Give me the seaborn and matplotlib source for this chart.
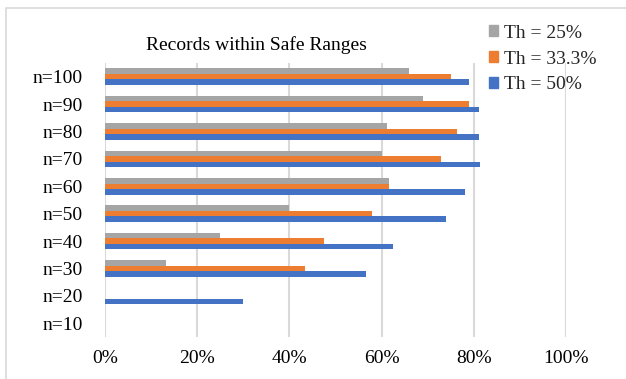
import matplotlib
matplotlib.use("Agg")
import matplotlib.pyplot as plt
import matplotlib.patches as mpatches
from matplotlib.ticker import FuncFormatter
import seaborn as sns
import pandas as pd

# Share of records inside the safe ranges, per sample size n and threshold
categories = ["n=100", "n=90", "n=80", "n=70", "n=60", "n=50", "n=40", "n=30", "n=20", "n=10"]
th_25 = [0.660, 0.689, 0.612, 0.601, 0.616, 0.400, 0.249, 0.132, 0.0, 0.0]
th_33 = [0.750, 0.789, 0.763, 0.728, 0.616, 0.580, 0.475, 0.433, 0.0, 0.0]
th_50 = [0.789, 0.811, 0.812, 0.813, 0.782, 0.740, 0.625, 0.567, 0.299, 0.0]
series_names = ["Th = 25%", "Th = 33.3%", "Th = 50%"]
colors = ["#A5A5A5", "#ED7D31", "#4472C4"]

rows = []
for name, vals in zip(series_names, [th_25, th_33, th_50]):
    for cat, v in zip(categories, vals):
        rows.append({"n": cat, "series": name, "value": v})
df = pd.DataFrame(rows)

sns.set_theme(style="white")
plt.rcParams["font.family"] = ["Liberation Serif", "DejaVu Serif"]

fig = plt.figure(figsize=(6.26, 3.79), dpi=100)
ax = fig.add_axes([0.1677, 0.1108, 0.7364, 0.723])

sns.barplot(data=df, x="value", y="n", hue="series", order=categories,
            hue_order=series_names, palette=colors, orient="h", width=0.6,
            saturation=1, ax=ax, legend=False, edgecolor="none")

ax.set_xlim(0, 1.0)
ax.set_ylim(len(categories) - 0.5, -0.5)
ax.set_xticks([0, 0.2, 0.4, 0.6, 0.8, 1.0])
ax.xaxis.set_major_formatter(FuncFormatter(lambda v, p: f"{v*100:.0f}%"))
ax.grid(axis="x", color="#D9D9D9", linewidth=1.5)
ax.set_axisbelow(True)
for s in ax.spines.values():
    s.set_visible(False)
ax.set_xlabel("")
ax.set_ylabel("")
ax.tick_params(axis="x", labelsize=14, colors="#000000", pad=9, length=0)
ax.tick_params(axis="y", labelsize=14, colors="#000000", pad=16, length=0)

fig.text(0.409, 0.881, "Records within Safe Ranges", ha="center", va="center",
         fontsize=14, color="#000000")

handles = [mpatches.Patch(color=c, label=n) for c, n in zip(colors, series_names)]
fig.legend(handles=handles, loc="upper left", bbox_to_anchor=(0.768, 0.955),
           frameon=False, fontsize=14, handlelength=0.5, handleheight=0.5,
           handletextpad=0.3, labelspacing=0.45, borderaxespad=0)

# chart frame
fig.patches.append(mpatches.Rectangle((6 / 626, -0.1), 1.2, 1 - 8 / 379 + 0.1,
                                      transform=fig.transFigure, fill=False,
                                      edgecolor="#D9D9D9", linewidth=1.2))

fig.savefig("out.png", dpi=100)
